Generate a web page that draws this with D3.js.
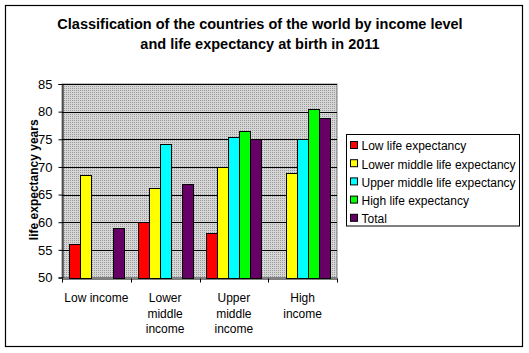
<!DOCTYPE html>
<html>
<head>
<meta charset="utf-8">
<script src="https://cdn.jsdelivr.net/npm/d3@7"></script>
<style>
  html, body { margin: 0; padding: 0; background: #fff; }
  svg { display: block; font-family: "Liberation Sans", Arial, sans-serif; }
</style>
</head>
<body>
<svg id="chart" width="529" height="353"></svg>
<script>
const categories = [["Low income"], ["Lower", "middle", "income"], ["Upper", "middle", "income"], ["High", "income"]];
const categoryKeys = ["Low income", "Lower middle income", "Upper middle income", "High income"];
const seriesNames = ["Low life expectancy", "Lower middle life expectancy", "Upper middle life expectancy", "High life expectancy", "Total"];
const seriesColors = ["#ff0000", "#ffff00", "#00ffff", "#00ff00", "#660066"];
const lowLife = [56.0, 60.0, 58.1, null];
const lowerMiddleLife = [68.6, 66.1, 70.0, 68.9];
const upperMiddleLife = [null, 74.1, 75.4, 75.0];
const highLife = [null, null, 76.5, 80.4];
const totalLife = [58.9, 67.0, 75.0, 78.9];
const yTicks = [50, 55, 60, 65, 70, 75, 80, 85];
const titleLines = ["Classification of the countries of the world by income level", "and life expectancy at birth in 2011"];
const yTitle = "life expectancy years";

const seriesValues = [lowLife, lowerMiddleLife, upperMiddleLife, highLife, totalLife];

const svg = d3.select("#chart");

// pattern fill for plot area
const defs = svg.append("defs");
const pat = defs.append("pattern").attr("id", "dots").attr("patternUnits", "userSpaceOnUse")
  .attr("width", 2).attr("height", 2);
pat.append("rect").attr("width", 2).attr("height", 2).attr("fill", "#d6d6d6");
pat.append("rect").attr("width", 1).attr("height", 1).attr("fill", "#9a9a9a");

// outer frame
svg.append("rect").attr("x", 5.5).attr("y", 5.5).attr("width", 517).attr("height", 341)
  .attr("fill", "#fff").attr("stroke", "#000").attr("stroke-width", 1.2);

// title
svg.append("g").selectAll("text").data(titleLines).join("text")
  .attr("x", 260).attr("y", (d, i) => 29 + i * 20)
  .attr("text-anchor", "middle").attr("font-weight", "bold").attr("font-size", 14.5)
  .attr("fill", "#000").text(d => d);

const plot = { left: 62, right: 337, top: 84, bottom: 277.5 };

const x0 = d3.scaleBand().domain(categoryKeys).range([plot.left, plot.right]).paddingInner(0).paddingOuter(0);
const x1 = d3.scaleBand().domain(seriesNames).range([0, x0.bandwidth()]).paddingInner(0).paddingOuter(0.625);
const y = d3.scaleLinear().domain([50, 85]).range([plot.bottom, plot.top]);

// plot background
svg.append("rect").attr("x", plot.left).attr("y", plot.top)
  .attr("width", plot.right - plot.left).attr("height", plot.bottom - plot.top)
  .attr("fill", "url(#dots)").attr("stroke", "#808080").attr("stroke-width", 1);

// gridlines
svg.append("g").selectAll("line").data(yTicks.filter(t => t > 50)).join("line")
  .attr("x1", plot.left).attr("x2", plot.right)
  .attr("y1", d => Math.round(y(d)) + 0.5).attr("y2", d => Math.round(y(d)) + 0.5)
  .attr("stroke", "#000").attr("stroke-width", 1);

// bars
const rows = [];
seriesValues.forEach((vals, si) => {
  vals.forEach((v, ci) => {
    if (v !== null) rows.push({ s: seriesNames[si], c: categoryKeys[ci], v, color: seriesColors[si] });
  });
});
svg.append("g").selectAll("rect").data(rows).join("rect")
  .attr("x", d => Math.round(x0(d.c) + x1(d.s)) + 0.5)
  .attr("width", Math.round(x1.bandwidth()))
  .attr("y", d => Math.round(y(d.v)) + 0.5)
  .attr("height", d => Math.round(y(50)) - Math.round(y(d.v)))
  .attr("fill", d => d.color).attr("stroke", "#000").attr("stroke-width", 1);

// y axis
const yAxis = d3.axisLeft(y).tickValues(yTicks).tickSize(4).tickPadding(6).tickFormat(d3.format("d"));
const gy = svg.append("g").attr("transform", `translate(${plot.left + 0.5},0)`).call(yAxis);
gy.select(".domain").attr("stroke", "#000");
gy.selectAll(".tick line").attr("stroke", "#000");
gy.selectAll(".tick text").attr("font-size", 13).attr("fill", "#000")
  .attr("font-family", "Liberation Sans, Arial, sans-serif");

// x axis
const xAxis = d3.axisBottom(x0).tickSize(0).tickFormat("");
const gx = svg.append("g").attr("transform", `translate(0,${Math.round(plot.bottom) + 0.5})`).call(xAxis);
gx.select(".domain").attr("stroke", "#000");
gx.selectAll(".tick").remove();
const boundaries = categoryKeys.map(c => x0(c)).concat([x0.range()[1]]);
gx.selectAll("line.b").data(boundaries).join("line").attr("class", "b")
  .attr("x1", d => Math.round(d) + 0.5).attr("x2", d => Math.round(d) + 0.5)
  .attr("y1", 0).attr("y2", 4).attr("stroke", "#000");

// category labels
const catG = svg.append("g");
categories.forEach((lines, i) => {
  const cx = x0(categoryKeys[i]) + x0.bandwidth() / 2;
  catG.append("text").attr("text-anchor", "middle").attr("font-size", 12).attr("fill", "#000")
    .selectAll("tspan").data(lines).join("tspan")
    .attr("x", cx).attr("y", (d, j) => 302 + j * 15.5).text(d => d);
});

// y title
svg.append("text").attr("transform", `translate(37.5,${(plot.top + plot.bottom) / 2 - 1}) rotate(-90)`)
  .attr("text-anchor", "middle").attr("font-weight", "bold").attr("font-size", 12)
  .attr("fill", "#000").text(yTitle);

// legend
const lg = svg.append("g");
lg.append("rect").attr("x", 346.5).attr("y", 134.5).attr("width", 173).attr("height", 91.5)
  .attr("fill", "#fff").attr("stroke", "#000").attr("stroke-width", 1);
const items = lg.selectAll("g.item").data(seriesNames).join("g").attr("class", "item")
  .attr("transform", (d, i) => `translate(350,${146 + i * 18.2})`);
items.append("rect").attr("x", 0.5).attr("y", -4.5).attr("width", 7).attr("height", 7)
  .attr("fill", (d, i) => seriesColors[i]).attr("stroke", "#000").attr("stroke-width", 1);
items.append("text").attr("x", 11.5).attr("y", 4.3).attr("font-size", 12).attr("fill", "#000").text(d => d);
</script>
</body>
</html>
